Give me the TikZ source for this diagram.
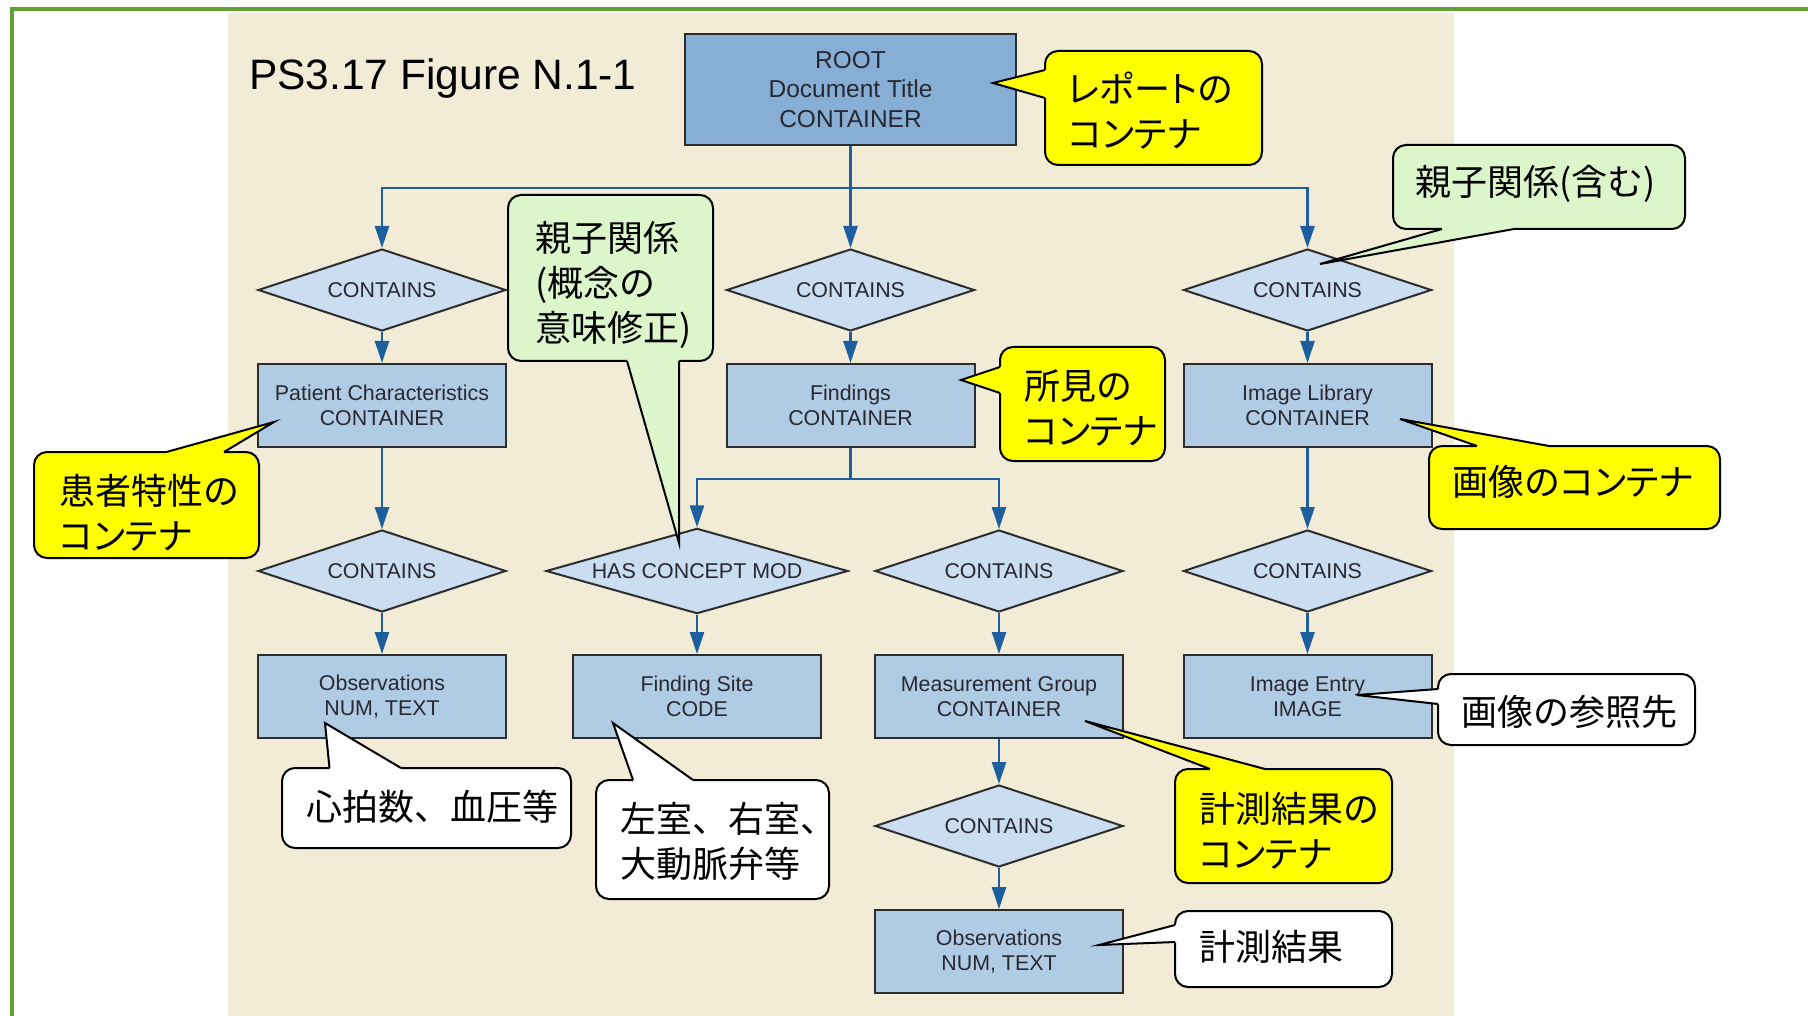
\documentclass[tikz,border=0pt]{standalone}
\usepackage{fontspec}
\setmainfont{Liberation Sans}
\newfontfamily\jpfont{Noto Sans CJK JP}
\newfontfamily\jpk[RawFeature=+palt]{Noto Sans CJK JP}
\usetikzlibrary{shapes.geometric,arrows.meta}
\definecolor{beige}{RGB}{242,236,215}
\definecolor{framegreen}{RGB}{98,160,50}
\definecolor{boxc}{RGB}{176,204,228}
\definecolor{rootc}{RGB}{135,175,214}
\definecolor{diac}{RGB}{203,221,240}
\definecolor{bordc}{RGB}{45,45,45}
\definecolor{txtc}{RGB}{40,40,50}
\definecolor{arrc}{RGB}{28,94,158}
\definecolor{yel}{RGB}{255,255,0}
\definecolor{grn}{RGB}{220,245,202}
\begin{document}
\begin{tikzpicture}[x=1pt,y=-1pt,
  box/.style={rectangle, draw=bordc, line width=2pt, fill=boxc, minimum width=248pt, minimum height=83pt, inner sep=0pt, align=center, text=txtc, font=\fontsize{21.4pt}{25pt}\selectfont},
  dia/.style={diamond, draw=bordc, line width=2pt, fill=diac, minimum width=248pt, minimum height=82pt, inner sep=0pt, aspect=3, text=txtc, font=\fontsize{21.4pt}{25pt}\selectfont},
  arr/.style={draw=arrc, line width=2.5pt, -{Triangle[length=22pt,width=14pt]}},
  bus/.style={draw=arrc, line width=2.5pt},
  co/.style={rectangle, draw=black, line width=2pt, rounded corners=13pt, inner sep=0pt},
  cline/.style={draw=black, line width=2pt, line join=miter},
  cotext/.style={font=\jpfont\fontsize{36pt}{45pt}\selectfont, align=left, inner sep=0pt, anchor=west, text=black}]
\useasboundingbox (0,0) rectangle (1808,1016);
\fill[white] (0,0) rectangle (1808,1016);
\fill[beige] (227.5,13) rectangle (1454,1016);
\draw[framegreen, line width=4.5pt, line join=miter] (12,1030) -- (12,9) -- (1830,9);

\node[anchor=base west, inner sep=0pt, font=\fontsize{42.5pt}{50pt}\selectfont, text=black] (title) at (249,90) {PS3.17 Figure N.1-1};

% nodes
\node[box, fill=rootc, minimum width=331pt, minimum height=111pt, font=\fontsize{24.5pt}{29.5pt}\selectfont] (root) at (850.5,89.5) {ROOT\\Document Title\\CONTAINER};
\node[dia] (dA1) at (382,290) {CONTAINS};
\node[dia] (dA3) at (850.5,290) {CONTAINS};
\node[dia] (dA5) at (1307.5,290) {CONTAINS};
\node[box] (bB1) at (382,405.5) {Patient Characteristics\\CONTAINER};
\node[box] (bB3) at (850.5,405.5) {Findings\\CONTAINER};
\node[box] (bB5) at (1307.5,405.5) {Image Library\\CONTAINER};
\node[dia] (dC1) at (382,571) {CONTAINS};
\node[dia, minimum width=302pt] (dC2) at (697,571) {HAS CONCEPT MOD};
\node[dia] (dC4) at (999,571) {CONTAINS};
\node[dia] (dC5) at (1307.5,571) {CONTAINS};
\node[box] (bD1) at (382,696.5) {Observations\\NUM, TEXT};
\node[box] (bD2) at (697,696.5) {Finding Site\\CODE};
\node[box] (bD4) at (999,696.5) {Measurement Group\\CONTAINER};
\node[box] (bD5) at (1307.5,696.5) {Image Entry\\IMAGE};
\node[dia] (dE4) at (999,826) {CONTAINS};
\node[box] (bF4) at (999,951.5) {Observations\\NUM, TEXT};

% connectors
\coordinate (j1) at (850.5,188);
\coordinate (j2) at (850.5,479);
\draw[arr] (root.south) -- (dA3.north);
\draw[arr] (j1) -| (dA1.north);
\draw[arr] (j1) -| (dA5.north);
\draw[arr] (dA1.south) -- (bB1.north);
\draw[arr] (dA3.south) -- (bB3.north);
\draw[arr] (dA5.south) -- (bB5.north);
\draw[arr] (bB1.south) -- (dC1.north);
\draw[bus] (bB3.south) -- (j2);
\draw[arr] (j2) -| (dC2.north);
\draw[arr] (j2) -| (dC4.north);
\draw[arr] (bB5.south) -- (dC5.north);
\draw[arr] (dC1.south) -- (bD1.north);
\draw[arr] (dC2.south) -- (bD2.north);
\draw[arr] (dC4.south) -- (bD4.north);
\draw[arr] (dC5.south) -- (bD5.north);
\draw[arr] (bD4.south) -- (dE4.north);
\draw[arr] (dE4.south) -- (bF4.north);

% callout: report container
\node[co, fill=yel, minimum width=217pt, minimum height=114pt] (cRep) at (1153.5,108) {};
\coordinate (pRep) at (993,83);
\fill[yel] (1045,70) -- (pRep) -- (1045,98) -- (1051,98) -- (1051,70) -- cycle;
\draw[cline] (1045,70) -- (pRep) -- (1045,98);
\node[cotext] (tRep) at (1068,111) {{\jpk レポートの}\\{\jpk コンテナ}};

% callout: parent-child (contains)
\node[co, fill=grn, minimum width=292pt, minimum height=84pt] (cOya2) at (1539,187) {};
\coordinate (pOya2) at (1320,264);
\fill[grn] (1442,229) -- (pOya2) -- (1514,229) -- (1514,223) -- (1442,223) -- cycle;
\draw[cline] (1442,229) -- (pOya2) -- (1514,229);
\node[cotext] (tOya2) at (1415,184) {親子関係(含む)};

% callout: parent-child (concept mod)
\node[co, fill=grn, minimum width=205pt, minimum height=166pt] (cOya1) at (610.5,278) {};
\coordinate (pOya1) at (679,543);
\fill[grn] (627,361) -- (pOya1) -- (679,361) -- (679,355) -- (627,355) -- cycle;
\draw[cline] (627,361) -- (pOya1) -- (679,361);
\node[cotext] (tOya1) at (535,284.5) {親子関係\\(概念の\\意味修正)};

% callout: findings container
\node[co, fill=yel, minimum width=165pt, minimum height=114pt] (cShoken) at (1082.5,404) {};
\coordinate (pShoken) at (961,380);
\fill[yel] (1000,367) -- (pShoken) -- (1000,393) -- (1006,393) -- (1006,367) -- cycle;
\draw[cline] (1000,367) -- (pShoken) -- (1000,393);
\node[cotext] (tShoken) at (1024,408) {所見の\\{\jpk コンテナ}};

% callout: patient characteristics container
\node[co, fill=yel, minimum width=225pt, minimum height=106pt] (cKanja) at (146.5,505) {};
\coordinate (pKanja) at (274,422);
\fill[yel] (166.5,452) -- (pKanja) -- (224,452) -- (224,458) -- (166.5,458) -- cycle;
\draw[cline] (166.5,452) -- (pKanja) -- (224,452);
\node[cotext] (tKanja) at (59,513) {患者特性の\\{\jpk コンテナ}};

% callout: image container
\node[co, fill=yel, minimum width=291pt, minimum height=83pt] (cGazo) at (1574.5,487.5) {};
\coordinate (pGazo) at (1400,419);
\fill[yel] (1477,446) -- (pGazo) -- (1549,446) -- (1549,452) -- (1477,452) -- cycle;
\draw[cline] (1477,446) -- (pGazo) -- (1549,446);
\node[cotext] (tGazo) at (1452,482) {画像の{\jpk コンテナ}};

% callout: image reference
\node[co, fill=white, minimum width=257pt, minimum height=71pt] (cSansho) at (1566.5,709.5) {};
\coordinate (pSansho) at (1357,695);
\fill[white] (1438,689) -- (pSansho) -- (1438,704) -- (1444,704) -- (1444,689) -- cycle;
\draw[cline] (1438,689) -- (pSansho) -- (1438,704);
\node[cotext] (tSansho) at (1461,712) {画像の参照先};

% callout: measurement container
\node[co, fill=yel, minimum width=217pt, minimum height=114pt] (cKcont) at (1283.5,826) {};
\coordinate (pKcont) at (1085,721);
\fill[yel] (1210,769) -- (pKcont) -- (1265,769) -- (1265,775) -- (1210,775) -- cycle;
\draw[cline] (1210,769) -- (pKcont) -- (1265,769);
\node[cotext] (tKcont) at (1199,830.5) {計測結果の\\{\jpk コンテナ}};

% callout: measurement
\node[co, fill=white, minimum width=217pt, minimum height=76pt] (cKei) at (1283.5,949) {};
\coordinate (pKei) at (1099,945);
\fill[white] (1175,925) -- (pKei) -- (1175,942) -- (1181,942) -- (1181,925) -- cycle;
\draw[cline] (1175,925) -- (pKei) -- (1175,942);
\node[cotext] (tKei) at (1199,947) {計測結果};

% callout: heart rate etc.
\node[co, fill=white, minimum width=289pt, minimum height=80pt] (cShin) at (426.5,808) {};
\coordinate (pShin) at (325,723);
\fill[white] (329.5,768) -- (pShin) -- (401,768) -- (401,774) -- (329.5,774) -- cycle;
\draw[cline] (329.5,768) -- (pShin) -- (401,768);
\node[cotext] (tShin) at (306,807) {心拍数、血圧等};

% callout: ventricles etc.
\node[co, fill=white, minimum width=233pt, minimum height=119pt] (cSa) at (712.5,839.5) {};
\coordinate (pSa) at (613,723);
\fill[white] (633,780) -- (pSa) -- (693,780) -- (693,786) -- (633,786) -- cycle;
\draw[cline] (633,780) -- (pSa) -- (693,780);
\node[cotext] (tSa) at (620,841.5) {左室、右室、\\大動脈弁等};
\end{tikzpicture}
\end{document}
